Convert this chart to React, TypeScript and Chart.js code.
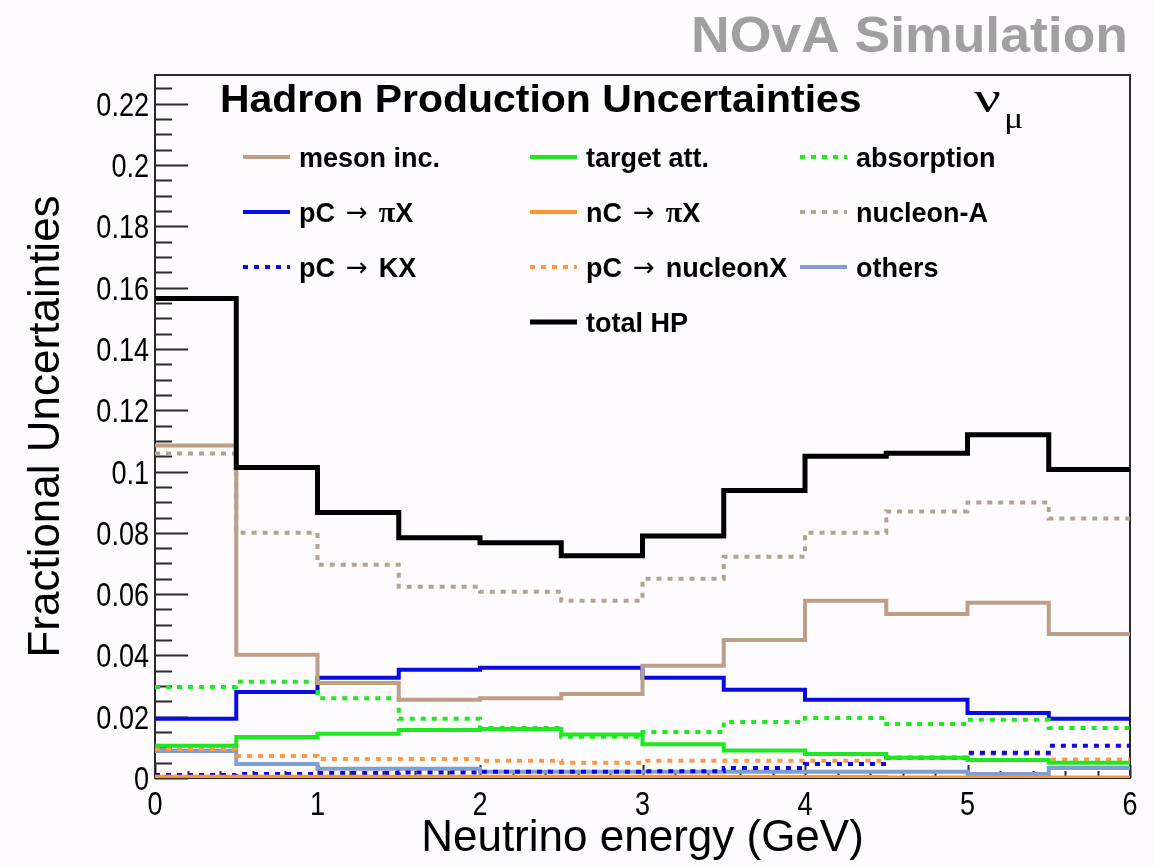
import { useEffect, useRef } from "react";
import { Chart, registerables } from "chart.js";

Chart.register(...registerables);

// Energy binning (GeV) and per-bin fractional uncertainties
const binEdges = [0, 0.5, 1, 1.5, 2, 2.5, 3, 3.5, 4, 4.5, 5, 5.5, 6];

const mesonInc = [0.1085, 0.0402, 0.031, 0.0255, 0.026, 0.0274, 0.0366, 0.045, 0.0578, 0.0535, 0.0572, 0.047];
const targetAtt = [0.0105, 0.0134, 0.0144, 0.0157, 0.016, 0.0142, 0.011, 0.009, 0.0078, 0.0066, 0.0059, 0.005];
const absorption = [0.0297, 0.0314, 0.026, 0.0193, 0.0163, 0.0135, 0.015, 0.0183, 0.0196, 0.0176, 0.019, 0.0163];
const pCtoPiX = [0.0193, 0.0281, 0.0327, 0.0353, 0.036, 0.036, 0.0327, 0.0288, 0.0255, 0.0255, 0.0212, 0.0193];
const nCtoPiX = [0.0004, 0.0004, 0.0004, 0.0004, 0.0004, 0.0004, 0.0004, 0.0003, 0.0003, 0.0002, 0.0002, 0.0002];
const nucleonA = [0.1059, 0.08, 0.0696, 0.0624, 0.0608, 0.0578, 0.065, 0.0722, 0.08, 0.087, 0.0899, 0.0847];
const pCtoKX = [0.001, 0.0013, 0.0016, 0.0018, 0.002, 0.002, 0.0022, 0.0033, 0.0046, 0.0066, 0.0082, 0.0105];
const pCtoNucleonX = [0.0095, 0.0072, 0.0062, 0.0062, 0.0056, 0.005, 0.0056, 0.0056, 0.0056, 0.0066, 0.0078, 0.006];
const others = [0.0088, 0.0046, 0.003, 0.003, 0.002, 0.002, 0.002, 0.002, 0.002, 0.002, 0.0013, 0.0033];
const totalHP = [0.1565, 0.1013, 0.0866, 0.0784, 0.0768, 0.0725, 0.079, 0.0938, 0.105, 0.106, 0.112, 0.1007];

// Axis ticks
const yTickValues = [0, 0.02, 0.04, 0.06, 0.08, 0.1, 0.12, 0.14, 0.16, 0.18, 0.2, 0.22];
const xTickValues = [0, 1, 2, 3, 4, 5, 6];
const yMinorStep = 0.005;
const xMinorStep = 0.2;

const SANS = '"Liberation Sans", Arial, Helvetica, sans-serif';
const SERIF = '"Liberation Serif", "DejaVu Serif", serif';
const DOTS = [5, 6];

// Histogram outline: one point per lower bin edge plus the closing edge
function histPoints(values: number[]) {
  const pts = values.map((v, i) => ({ x: binEdges[i], y: v }));
  pts.push({ x: binEdges[binEdges.length - 1], y: values[values.length - 1] });
  return pts;
}

type Series = { label: string; values: number[]; color: string; width: number; dash: number[] };

const series: Series[] = [
  { label: "total HP", values: totalHP, color: "#000000", width: 5, dash: [] },
  { label: "meson inc.", values: mesonInc, color: "#bc9f86", width: 4, dash: [] },
  { label: "target att.", values: targetAtt, color: "#1ee81e", width: 4, dash: [] },
  { label: "absorption", values: absorption, color: "#1ee81e", width: 4, dash: DOTS },
  { label: "pC → πX", values: pCtoPiX, color: "#0a0ae6", width: 4, dash: [] },
  { label: "nC → πX", values: nCtoPiX, color: "#ff9433", width: 4, dash: [] },
  { label: "nucleon-A", values: nucleonA, color: "#b3a391", width: 4, dash: DOTS },
  { label: "pC → KX", values: pCtoKX, color: "#0a0ae6", width: 4, dash: DOTS },
  { label: "pC → nucleonX", values: pCtoNucleonX, color: "#fa9a45", width: 4, dash: DOTS },
  { label: "others", values: others, color: "#7f9fd2", width: 4, dash: [] },
];

// Legend grid: [row, column] for each series label
const legendSlots: Record<string, [number, number]> = {
  "meson inc.": [0, 0],
  "target att.": [0, 1],
  "absorption": [0, 2],
  "pC → πX": [1, 0],
  "nC → πX": [1, 1],
  "nucleon-A": [1, 2],
  "pC → KX": [2, 0],
  "pC → nucleonX": [2, 1],
  "others": [2, 2],
  "total HP": [3, 1],
};
const legendColX = [243, 530, 800];
const legendRowY = [157, 212, 267, 322];

// Text with an optional horizontal stretch
function stretchedText(
  ctx: CanvasRenderingContext2D,
  text: string,
  x: number,
  y: number,
  font: string,
  sx: number,
  align: CanvasTextAlign
) {
  ctx.save();
  ctx.font = font;
  ctx.textAlign = align;
  ctx.textBaseline = "alphabetic";
  ctx.translate(x, y);
  ctx.scale(sx, 1);
  ctx.fillText(text, 0, 0);
  ctx.restore();
}

const LEGEND_FONT = `bold 27px ${SANS}`;

// Legend labels: bold sans, thin arrow with wide margins, serif pi
function drawLegendText(ctx: CanvasRenderingContext2D, text: string, x: number, y: number) {
  let cx = x;
  const parts = text.split(" → ");
  parts.forEach((part, i) => {
    if (i > 0) {
      cx += 11;
      ctx.font = `26px "DejaVu Sans", sans-serif`;
      ctx.fillText("→", cx, y - 1);
      cx += ctx.measureText("→").width + 11;
    }
    for (const ch of Array.from(part)) {
      ctx.font = ch === "π" ? `bold 30px ${SERIF}` : LEGEND_FONT;
      ctx.fillText(ch, cx, y);
      cx += ctx.measureText(ch).width;
    }
  });
}

const TICK_FONT = `33px ${SANS}`;
const TICK_SX = 0.82;

const backgroundPlugin = {
  id: "pageBackground",
  beforeDraw(chart: Chart) {
    const { ctx, width, height } = chart;
    ctx.save();
    ctx.fillStyle = "#fdfbfd";
    ctx.fillRect(0, 0, width, height);
    ctx.restore();
  },
};

const framePlugin = {
  id: "frameAndTicks",
  beforeDatasetsDraw(chart: Chart) {
    const { ctx, chartArea: a } = chart;
    const xs = chart.scales.x;
    const ys = chart.scales.y;
    ctx.save();
    ctx.strokeStyle = "#2a2a2a";
    ctx.lineWidth = 2;
    ctx.strokeRect(a.left, a.top, a.right - a.left, a.bottom - a.top);
    ctx.beginPath();
    const nY = Math.floor((ys.max as number) / yMinorStep + 1e-6);
    for (let i = 0; i <= nY; i++) {
      const py = Math.round(ys.getPixelForValue(i * yMinorStep)) + 0.5;
      const len = i % 4 === 0 ? 33 : 17;
      ctx.moveTo(a.left, py);
      ctx.lineTo(a.left + len, py);
    }
    const nX = Math.round(((xs.max as number) - (xs.min as number)) / xMinorStep);
    for (let i = 0; i <= nX; i++) {
      const px = Math.round(xs.getPixelForValue((xs.min as number) + i * xMinorStep)) + 0.5;
      const len = i % 5 === 0 ? 13 : 7;
      ctx.moveTo(px, a.bottom);
      ctx.lineTo(px, a.bottom - len);
    }
    ctx.stroke();
    ctx.restore();
  },
  afterDraw(chart: Chart) {
    const { ctx, chartArea: a } = chart;
    const xs = chart.scales.x;
    const ys = chart.scales.y;
    ctx.save();
    ctx.fillStyle = "#000";
    yTickValues.forEach((v) => {
      const py = ys.getPixelForValue(v);
      stretchedText(ctx, String(v), a.left - 6, py + 12, TICK_FONT, TICK_SX, "right");
    });
    xTickValues.forEach((v) => {
      const px = xs.getPixelForValue(v);
      stretchedText(ctx, String(v), px, a.bottom + 37, TICK_FONT, TICK_SX, "center");
    });
    ctx.restore();
  },
};

const annotationPlugin = {
  id: "textAndLegend",
  afterDraw(chart: Chart) {
    const { ctx } = chart;
    ctx.save();

    ctx.fillStyle = "#a0a0a0";
    stretchedText(ctx, "NOvA Simulation", 1128, 52, `bold 50px ${SANS}`, 1.07, "right");

    ctx.fillStyle = "#000";
    stretchedText(ctx, "Hadron Production Uncertainties", 220, 112, `bold 39px ${SANS}`, 1.05, "left");

    stretchedText(ctx, "ν", 974, 112, `44px ${SERIF}`, 1.35, "left");
    stretchedText(ctx, "μ", 1004, 128, `30px ${SERIF}`, 1.2, "left");

    ctx.textAlign = "left";
    ctx.textBaseline = "alphabetic";
    chart.data.datasets.forEach((ds: any) => {
      const slot = legendSlots[ds.label];
      if (!slot) return;
      const lx = legendColX[slot[1]];
      const ly = legendRowY[slot[0]];
      ctx.save();
      ctx.strokeStyle = ds.borderColor;
      ctx.lineWidth = ds.borderWidth;
      ctx.setLineDash(ds.borderDash || []);
      ctx.beginPath();
      ctx.moveTo(lx, ly);
      ctx.lineTo(lx + 47, ly);
      ctx.stroke();
      ctx.restore();
      ctx.fillStyle = "#000";
      drawLegendText(ctx, ds.label, lx + 56, ly + 10);
    });
    ctx.restore();
  },
};

export default function App() {
  const canvasRef = useRef<HTMLCanvasElement | null>(null);

  useEffect(() => {
    if (!canvasRef.current) return;
    const chart = new Chart(canvasRef.current, {
      type: "line",
      data: {
        datasets: series.map((s) => ({
          label: s.label,
          data: histPoints(s.values),
          borderColor: s.color,
          backgroundColor: s.color,
          borderWidth: s.width,
          borderDash: s.dash,
          borderCapStyle: "butt",
          borderJoinStyle: "miter",
          stepped: true,
          pointRadius: 0,
          fill: false,
        })),
      },
      options: {
        responsive: false,
        animation: false,
        events: [],
        layout: { padding: { top: 75, right: 24, left: 0, bottom: 0 } },
        plugins: {
          legend: { display: false },
          tooltip: { enabled: false },
          title: { display: false },
        },
        scales: {
          x: {
            type: "linear",
            min: 0,
            max: 6,
            afterFit: (scale: any) => {
              scale.height = 89;
            },
            afterBuildTicks: (scale: any) => {
              scale.ticks = xTickValues.map((v) => ({ value: v }));
            },
            grid: { display: false, drawTicks: false },
            border: { display: false },
            ticks: { display: false },
            title: {
              display: true,
              text: "Neutrino energy (GeV)",
              color: "#000",
              font: { family: SANS, size: 44, lineHeight: 1 },
              padding: { top: 0, bottom: 6 },
            },
          },
          y: {
            type: "linear",
            min: 0,
            max: 0.2294,
            afterFit: (scale: any) => {
              scale.width = 155;
            },
            afterBuildTicks: (scale: any) => {
              scale.ticks = yTickValues.map((v) => ({ value: v }));
            },
            grid: { display: false, drawTicks: false },
            border: { display: false },
            ticks: { display: false },
            title: {
              display: true,
              text: "Fractional Uncertainties",
              color: "#000",
              font: { family: SANS, size: 44, lineHeight: 1 },
              padding: { top: 25, bottom: 0 },
            },
          },
        },
      },
      plugins: [backgroundPlugin, framePlugin, annotationPlugin],
    } as any);
    return () => chart.destroy();
  }, []);

  return (
    <div style={{ position: "absolute", left: 0, top: 0, width: 1154, height: 867 }}>
      <canvas ref={canvasRef} width={1154} height={867} style={{ display: "block" }} />
    </div>
  );
}
